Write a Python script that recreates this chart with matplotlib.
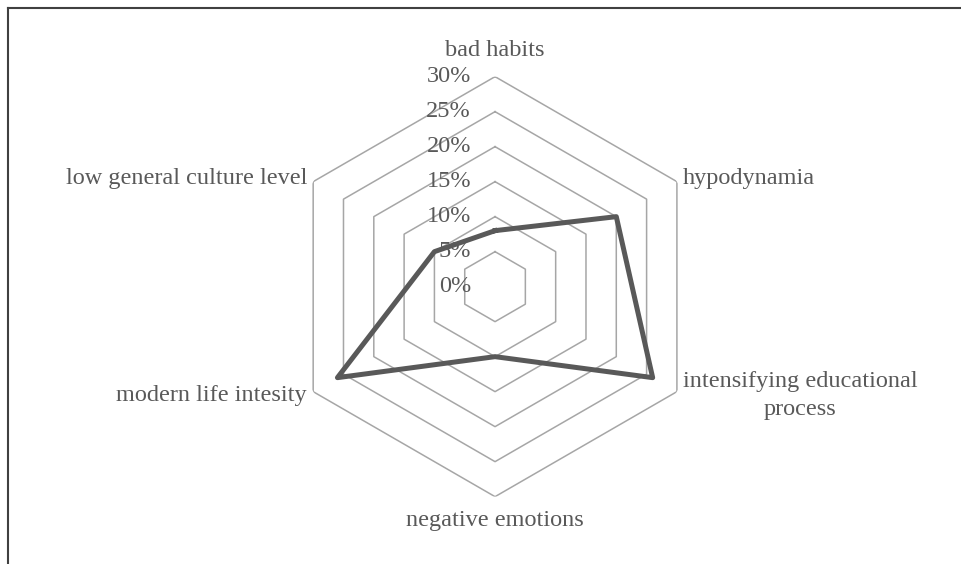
import numpy as np
import matplotlib
matplotlib.use('Agg')
import matplotlib.pyplot as plt
from matplotlib.lines import Line2D

# 数据
categories = ['bad habits', 'hypodynamia', 'intensifying educational\nprocess',
              'negative emotions', 'modern life intesity', 'low general culture level']
values = [8, 20, 26, 10, 26, 10]
ring_levels = [5, 10, 15, 20, 25, 30]
tick_levels = [0, 5, 10, 15, 20, 25, 30]
tick_labels = ['0%', '5%', '10%', '15%', '20%', '25%', '30%']

plt.rcParams['font.family'] = ['Liberation Serif', 'DejaVu Serif']
text_color = '#595959'
grid_color = '#a6a6a6'

fig = plt.figure(figsize=(9.62, 5.64), dpi=100)
ax = fig.add_axes([0.2963, 0.1194, 0.4366, 0.7447], projection='polar')
ax.set_theta_offset(np.pi / 2)
ax.set_theta_direction(-1)
ax.set_ylim(0, 30)
ax.grid(False)
ax.spines['polar'].set_visible(False)
ax.set_xticks([])
ax.set_yticks([])
ax.patch.set_alpha(0)

n = len(categories)
angles = np.arange(n) * 2 * np.pi / n
closed = np.append(angles, angles[0])

# 六边形网格
for lv in ring_levels:
    ax.plot(closed, [lv] * (n + 1), color=grid_color, lw=1.1, zorder=1)

# 数据折线
ax.plot(closed, values + values[:1], color='#595959', lw=3.6,
        solid_joinstyle='round', zorder=3)

# 刻度标签
for lv, lab in zip(tick_levels, tick_labels):
    ax.annotate(lab, xy=(0, lv), xytext=(-24, 0), textcoords='offset pixels',
                ha='right', va='center', fontsize=17.5, color=text_color, zorder=2)

# 类别标签
label_pos = [(33.8, 'center', 'center'), (31, 'left', 'center'), (31, 'left', 'center'),
             (33.4, 'center', 'center'), (31, 'right', 'center'), (31, 'right', 'center')]
for ang, cat, (r, ha, va) in zip(angles, categories, label_pos):
    ax.text(ang, r, cat, ha=ha, va=va, multialignment='center',
            fontsize=17.5, color=text_color, linespacing=1.45)

# 外框
fig.add_artist(Line2D([8 / 962, 1], [1 - 8 / 564, 1 - 8 / 564], color='#404040', lw=1.5,
                      transform=fig.transFigure))
fig.add_artist(Line2D([8 / 962, 8 / 962], [0, 1 - 8 / 564], color='#404040', lw=1.5,
                      transform=fig.transFigure))

plt.savefig('out.png', dpi=100)
